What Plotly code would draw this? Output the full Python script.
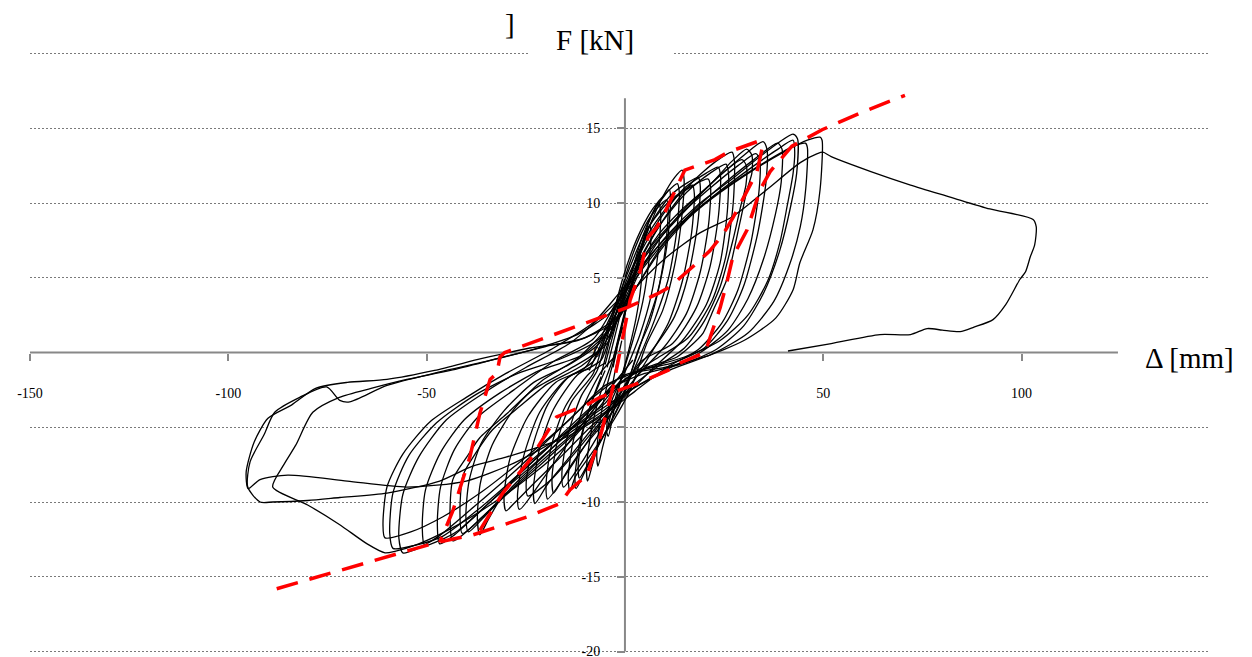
import plotly.graph_objects as go

# ---------------- tick labels ----------------
x_tick_vals = [-150, -100, -50, 50, 100]
x_tick_text = ["-150", "-100", "-50", "50", "100"]
y_tick_vals = [-20, -15, -10, -5, 0, 5, 10, 15, 20]
y_tick_text = ["-20", "-15", "-10", "-5", "0", "5", "10", "15", ""]

# ---------------- measured hysteresis loops (Δ [mm], F [kN]) ----------------
loop_01 = [(-3.0, -1.0), (-1.0, 1.5), (1.0, 3.6), (2.8, 5.4), (4.0, 6.5), (4.4, 6.2), (4.0, 4.4), (2.8, 2.3),
           (1.0, 0.2), (-1.0, -1.8), (-2.8, -3.9), (-4.2, -5.6), (-4.6, -5.3), (-4.0, -3.6), (-2.6, -1.4), (-0.8, 0.8)]
loop_02 = [(-2.5, 0.0), (0.0, 2.6), (2.5, 5.2), (4.6, 7.3), (6.2, 8.5), (6.6, 8.1), (6.0, 6.0), (4.5, 3.4),
           (2.0, 0.8), (-0.8, -1.6), (-3.4, -4.0), (-5.6, -6.3), (-6.8, -7.6), (-7.1, -7.0), (-6.4, -4.8),
           (-4.6, -2.3), (-2.0, 0.2)]
loop_03 = [(-1.5, 1.0), (1.0, 3.8), (3.5, 6.5), (6.0, 8.7), (8.5, 10.0), (9.0, 9.4), (8.4, 6.8), (6.6, 3.8),
           (3.8, 1.2), (0.5, -1.0), (-3.0, -3.0), (-6.0, -5.5), (-8.2, -7.5), (-9.4, -8.6), (-9.7, -7.9),
           (-8.7, -5.6), (-6.5, -3.0), (-3.5, -0.8), (-0.5, 1.7)]
loop_04 = [(-4.5, -1.0), (-1.5, 2.2), (1.5, 5.2), (4.5, 7.8), (7.5, 9.6), (10.0, 10.5), (11.2, 10.9),
           (11.5, 10.3), (10.8, 7.6), (8.8, 4.6), (6.2, 2.0), (3.5, 0.3), (0.0, -2.6), (-3.5, -4.6),
           (-7.0, -6.4), (-9.8, -7.8), (-12.3, -9.1), (-12.6, -8.3), (-11.3, -5.9), (-8.2, -3.2), (-5.0, -1.2)]
loop_04b = [(-6.0, -1.5), (-3.0, 1.8), (0.0, 5.0), (3.5, 7.6), (6.5, 9.1), (9.0, 9.9), (10.5, 10.2),
            (10.9, 9.6), (10.2, 7.0), (8.2, 4.0), (5.0, 1.4), (2.0, -1.0), (-1.5, -3.6), (-5.5, -5.6),
            (-9.0, -7.3), (-11.5, -8.4), (-11.8, -7.6), (-10.6, -5.3), (-8.0, -3.0), (-6.0, -1.6)]
loop_05 = [(-3.0, -0.5), (0.0, 2.8), (3.0, 5.8), (6.0, 8.3), (9.5, 10.4), (12.5, 11.7), (14.4, 12.2),
           (14.9, 11.6), (14.3, 9.0), (12.5, 5.8), (9.5, 2.8), (5.5, 0.6), (1.5, -2.4), (-3.0, -4.6),
           (-8.0, -6.6), (-12.5, -8.3), (-13.9, -9.3), (-14.3, -8.4), (-13.1, -6.0), (-10.1, -3.4),
           (-6.0, -1.3), (-3.0, -0.4)]
loop_05b = [(-7.0, -1.2), (-3.5, 2.0), (-0.5, 5.0), (3.0, 7.6), (7.0, 9.6), (10.5, 10.7), (13.2, 11.3),
            (13.7, 10.7), (13.1, 8.2), (11.0, 5.0), (7.5, 2.2), (3.5, -0.4), (-1.0, -3.0), (-6.0, -5.2),
            (-11.0, -7.4), (-15.5, -9.0), (-15.9, -8.1), (-14.5, -5.6), (-11.0, -2.9), (-7.0, -1.2)]
loop_06 = [(-5.0, -0.8), (-1.5, 2.6), (2.5, 6.0), (6.5, 8.6), (11.5, 10.5), (16.0, 11.4), (18.5, 11.7),
           (19.0, 11.1), (18.3, 8.5), (16.0, 5.2), (12.5, 2.4), (7.0, 0.2), (2.0, -1.4), (-3.0, -3.6),
           (-8.5, -5.6), (-14.0, -7.8), (-19.5, -9.8), (-19.9, -8.9), (-18.6, -6.3), (-15.0, -3.6),
           (-9.0, -1.4), (-5.0, -0.7)]
loop_06b = [(-8.0, -1.4), (-4.0, 2.0), (0.5, 5.2), (5.0, 8.0), (10.0, 9.8), (14.5, 10.8), (17.0, 11.2),
            (17.5, 10.6), (16.8, 8.0), (14.5, 4.8), (11.0, 2.0), (6.0, -0.3), (0.0, -2.8), (-5.0, -4.6),
            (-10.0, -6.2), (-14.5, -7.9), (-18.0, -9.4), (-18.4, -8.4), (-17.0, -5.9), (-13.5, -3.3),
            (-8.0, -1.4)]
loop_07 = [(-6.0, -0.5), (-2.0, 2.8), (3.0, 6.2), (9.0, 9.0), (15.0, 11.0), (20.5, 12.0), (23.5, 12.4),
           (24.1, 11.8), (23.6, 9.2), (21.5, 5.8), (18.0, 3.0), (12.0, 0.6), (4.0, -0.6), (-2.0, -3.0),
           (-8.0, -5.0), (-14.0, -7.0), (-19.5, -8.8), (-22.7, -10.1), (-23.1, -9.2), (-21.6, -6.5),
           (-18.0, -3.8), (-12.0, -1.5), (-6.0, -0.5)]
loop_07b = [(-9.0, -1.2), (-4.0, 1.8), (1.0, 5.2), (6.5, 8.2), (12.5, 10.3), (18.0, 11.3), (21.0, 11.6),
            (21.6, 11.0), (21.1, 8.6), (19.0, 5.4), (15.5, 2.6), (10.0, 0.4), (3.0, -1.6), (-3.0, -3.6),
            (-8.5, -5.4), (-13.5, -7.0), (-19.0, -8.6), (-24.5, -9.6), (-24.9, -8.7), (-23.2, -6.2),
            (-19.5, -3.5), (-14.0, -1.6), (-9.0, -1.1)]
loop_08 = [(-8.0, -0.6), (-2.5, 2.5), (3.5, 6.0), (10.0, 9.0), (17.0, 11.4), (23.0, 12.8), (27.0, 13.4),
           (27.6, 12.8), (27.3, 10.0), (25.5, 6.5), (22.0, 3.5), (16.0, 1.0), (8.0, -0.4), (1.0, -1.6),
           (-6.0, -3.2), (-13.0, -5.6), (-20.0, -8.2), (-26.6, -10.5), (-27.1, -9.6), (-25.6, -7.0),
           (-21.5, -4.0), (-15.0, -1.8), (-8.0, -0.6)]
loop_08b = [(-10.0, -1.0), (-4.0, 2.2), (2.0, 5.4), (8.5, 8.4), (15.5, 10.7), (21.5, 12.0), (25.5, 12.6),
            (26.1, 12.0), (25.8, 9.4), (24.0, 6.0), (20.5, 3.2), (14.5, 0.8), (6.5, -1.2), (-1.0, -3.2),
            (-8.0, -4.8), (-15.5, -6.8), (-23.5, -8.9), (-28.0, -10.1), (-30.0, -10.6), (-30.5, -9.7),
            (-29.0, -7.1), (-24.5, -4.3), (-17.5, -2.0), (-10.0, -1.0)]
loop_09 = [(-12.0, -0.4), (-5.0, 1.5), (0.0, 3.6), (4.0, 6.0), (8.5, 7.9), (14.5, 9.6), (21.4, 11.2),
           (27.0, 12.8), (30.7, 13.6), (32.0, 13.2), (32.0, 12.0), (30.8, 10.9), (29.0, 8.7), (25.7, 4.9),
           (22.2, 2.8), (19.7, 1.3), (16.4, 0.4), (13.1, -0.3), (5.5, -1.0), (-1.0, -2.0), (-5.0, -3.4),
           (-13.1, -5.0), (-24.7, -7.5), (-31.0, -9.6), (-34.5, -11.2), (-36.6, -12.2), (-37.2, -11.2),
           (-36.5, -8.8), (-33.5, -6.2), (-28.0, -3.8), (-21.0, -1.9), (-12.0, -0.4)]
loop_09b = [(-14.0, -0.8), (-6.5, 0.6), (-1.5, 3.0), (3.0, 5.6), (8.0, 7.4), (13.5, 9.0), (19.5, 10.7),
            (25.5, 12.2), (29.5, 12.9), (30.6, 12.5), (30.5, 11.2), (29.2, 9.8), (27.3, 7.6), (24.0, 4.4),
            (20.0, 2.1), (15.0, 0.3), (9.0, -0.8), (2.0, -2.2), (-4.0, -3.8), (-12.0, -5.2), (-22.0, -7.5),
            (-30.0, -9.5), (-35.5, -11.0), (-39.5, -12.0), (-40.1, -11.0), (-39.3, -8.6), (-36.3, -6.1),
            (-30.5, -3.9), (-23.0, -2.0), (-14.0, -0.8)]
loop_10 = [(-6.3, 0.2), (-1.0, 2.6), (3.0, 5.0), (8.0, 7.3), (15.0, 9.6), (23.0, 11.6), (30.0, 13.2),
           (34.8, 14.1), (35.8, 13.6), (35.6, 11.5), (33.5, 8.0), (30.0, 4.5), (26.0, 2.2), (20.0, 0.3),
           (12.0, -0.7), (4.0, -1.2), (-3.0, -2.4), (-10.0, -4.2), (-18.0, -6.3), (-27.0, -8.6),
           (-34.0, -10.5), (-38.3, -11.6), (-43.4, -12.6), (-44.1, -11.0), (-43.4, -8.5), (-39.9, -7.0),
           (-36.6, -5.7), (-29.8, -4.1), (-23.2, -2.5), (-14.6, -1.2), (-6.3, 0.2)]
loop_10b = [(-11.0, -0.9), (-4.0, 0.8), (0.5, 4.4), (6.0, 6.9), (13.5, 9.1), (21.5, 11.0), (28.5, 12.5),
            (33.0, 13.3), (34.0, 12.8), (33.8, 10.8), (31.8, 7.4), (28.5, 4.2), (24.5, 2.0), (18.5, 0.2),
            (10.5, -1.0), (2.5, -2.6), (-4.5, -4.0), (-12.0, -5.3), (-20.0, -7.2), (-29.0, -9.3),
            (-36.0, -11.0), (-41.0, -12.1), (-41.6, -10.7), (-40.8, -8.2), (-37.3, -6.6), (-33.5, -5.2),
            (-26.5, -3.6), (-19.5, -2.1), (-11.0, -0.9)]
loop_11 = [(-8.0, 0.9), (-2.0, 3.4), (4.0, 5.6), (10.5, 7.8), (18.5, 9.9), (27.0, 11.6), (35.0, 13.3),
           (42.4, 14.6), (43.5, 14.3), (43.3, 12.0), (41.8, 9.8), (39.0, 6.8), (35.0, 4.0), (30.0, 1.8),
           (23.0, 0.2), (14.0, -0.8), (5.0, -1.4), (-2.0, -2.2), (-10.0, -4.0), (-20.0, -6.5), (-30.0, -9.0),
           (-38.0, -11.0), (-43.0, -12.2), (-46.7, -12.8), (-47.3, -11.5), (-46.5, -9.0), (-43.0, -6.5),
           (-37.0, -4.3), (-28.0, -2.5), (-18.0, -0.6), (-8.0, 0.9)]
loop_11b = [(-11.0, -0.2), (-3.5, 1.6), (2.5, 4.2), (9.0, 7.0), (17.0, 9.4), (25.0, 11.3), (32.5, 12.9),
            (38.5, 14.0), (39.6, 13.6), (39.4, 11.4), (37.9, 9.2), (35.0, 6.3), (31.0, 3.6), (26.0, 1.5),
            (19.0, 0.0), (10.0, -1.2), (1.0, -2.6), (-6.0, -4.0), (-14.0, -5.4), (-24.0, -7.7),
            (-34.0, -10.0), (-42.0, -11.9), (-47.0, -12.6), (-50.5, -12.9), (-51.1, -11.7), (-50.3, -9.2),
            (-46.5, -6.7), (-40.5, -4.5), (-31.5, -2.7), (-21.5, -1.2), (-11.0, -0.2)]
loop_12 = [(-14.0, 0.6), (-6.0, 2.4), (0.0, 4.0), (5.0, 5.8), (12.0, 8.0), (20.0, 9.9), (30.0, 11.8),
           (40.0, 13.4), (46.0, 14.2), (49.2, 14.4), (49.7, 14.2), (49.2, 10.9), (47.4, 8.2), (44.1, 6.0),
           (42.4, 4.2), (38.0, 2.3), (30.0, 0.8), (20.0, -0.3), (10.0, -1.0), (0.0, -1.5), (-8.0, -3.0),
           (-18.0, -5.5), (-28.0, -8.0), (-38.0, -10.3), (-47.0, -12.3), (-53.0, -13.2), (-56.0, -13.4),
           (-57.0, -12.4), (-56.0, -9.5), (-52.0, -7.0), (-45.0, -4.5), (-35.0, -2.6), (-25.0, -1.0),
           (-14.0, 0.6)]
loop_12b = [(-16.0, -0.4), (-7.0, 0.8), (-1.5, 2.3), (3.0, 4.4), (10.0, 7.2), (18.0, 9.5), (28.0, 11.5),
            (37.0, 13.0), (42.5, 13.8), (45.5, 14.0), (46.0, 13.7), (45.6, 11.0), (44.2, 8.4), (41.4, 5.8),
            (37.5, 3.4), (31.0, 1.3), (22.0, -0.1), (12.0, -1.1), (2.0, -2.4), (-6.0, -3.8), (-17.0, -5.8),
            (-27.0, -8.2), (-37.0, -10.5), (-46.0, -12.3), (-53.0, -12.9), (-58.5, -13.1), (-59.3, -12.1),
            (-58.5, -9.4), (-54.5, -6.9), (-47.5, -4.7), (-37.5, -2.8), (-27.0, -1.4), (-16.0, -0.4)]
loop_13 = [(-18.0, 0.3), (-8.0, 2.0), (-2.0, 3.8), (6.0, 6.4), (13.0, 8.4), (22.0, 10.4), (31.0, 12.2),
           (38.0, 13.5), (42.4, 14.2), (42.8, 13.4), (42.4, 12.0), (40.9, 9.8), (39.1, 7.4), (36.0, 4.8),
           (31.0, 2.5), (24.0, 0.8), (15.0, -0.3), (5.0, -1.1), (-5.0, -2.2), (-14.0, -4.5), (-25.0, -7.0),
           (-36.0, -9.3), (-46.0, -11.0), (-54.0, -12.0), (-60.5, -12.4), (-61.0, -11.5), (-60.0, -9.0),
           (-56.0, -6.8), (-49.0, -4.6), (-40.0, -3.0), (-30.0, -1.4), (-18.0, 0.3)]
loop_14 = [(2.0, -0.5), (-5.0, -2.8), (-13.0, -5.4), (-21.5, -6.3), (-30.0, -7.0), (-38.4, -7.6),
           (-46.7, -8.6), (-60.0, -9.4), (-71.9, -9.7), (-80.0, -9.9), (-88.8, -10.0), (-92.0, -10.0),
           (-95.1, -9.0), (-94.5, -7.3), (-91.0, -5.5), (-88.3, -4.0), (-82.0, -3.0), (-75.2, -2.3),
           (-71.9, -3.2), (-69.4, -3.3), (-60.0, -2.2), (-46.7, -1.3), (-35.0, -0.6), (-22.0, 0.3),
           (-12.0, 1.2), (-4.0, 2.6), (0.0, 4.0)]
loop_15 = [(0.0, -1.5), (-6.0, -3.5), (-14.0, -6.0), (-24.0, -8.3), (-34.0, -10.2), (-44.0, -11.8),
           (-52.0, -12.8), (-58.0, -13.3), (-60.5, -13.4), (-65.0, -12.8), (-72.0, -11.5), (-80.0, -10.2),
           (-88.8, -9.0), (-86.0, -7.5), (-83.0, -6.2), (-78.7, -4.0), (-72.0, -3.0), (-64.0, -2.4),
           (-55.0, -1.8), (-44.0, -1.2), (-32.0, -0.4), (-20.0, 0.4), (-10.0, 1.0), (-2.0, 2.4), (2.0, 4.6)]
loop_16 = [(0.0, -1.2), (-8.0, -3.6), (-16.0, -5.6), (-28.0, -7.4), (-40.0, -8.6), (-55.0, -9.0),
           (-70.0, -8.6), (-85.0, -8.2), (-92.0, -8.5), (-95.0, -9.1), (-95.5, -8.0), (-93.5, -6.0),
           (-90.0, -4.4), (-84.0, -3.5), (-78.0, -2.4), (-70.0, -2.0), (-60.0, -1.8), (-48.0, -1.2),
           (-36.0, -0.4), (-24.0, 0.3), (-12.0, 0.8), (-3.0, 2.0), (1.0, 3.9)]
loop_17 = [(-4.0, 1.0), (0.0, 3.4), (5.0, 5.0), (10.6, 6.4), (18.9, 8.0), (27.2, 9.1), (35.8, 10.9),
           (44.2, 12.7), (48.5, 13.3), (49.9, 13.4), (52.0, 13.1), (62.0, 12.1), (72.0, 11.2), (82.0, 10.4),
           (92.0, 9.6), (102.9, 8.9), (103.7, 8.4), (103.3, 7.2), (102.2, 6.4), (101.0, 5.4), (99.6, 4.9),
           (96.0, 3.2), (92.8, 2.2), (88.0, 1.7), (84.5, 1.4), (80.0, 1.5), (76.2, 1.6), (72.0, 1.2),
           (64.3, 1.2), (52.0, 0.6), (41.1, 0.1)]

measured_loops = [loop_01, loop_02, loop_03, loop_04, loop_04b, loop_05, loop_05b, loop_06, loop_06b,
                  loop_07, loop_07b, loop_08, loop_08b, loop_09, loop_09b, loop_10, loop_10b, loop_11,
                  loop_11b, loop_12, loop_12b, loop_13, loop_14, loop_15, loop_16, loop_17]

# ---------------- model curves (red dashed) ----------------
model_1_x = [-87.8, -47.4, -38.3, -24.7, -16.4, -13.9, -9.6, -6.3, -3.0, 1.3, 3.8, 5.8, 8.1, 10.1, 15.1,
             22.7, 26.0, 33.3, 34.8, 33.3, 30.8, 27.2, 24.7, 21.4, 18.2, 11.4, 8.0, 0.5, -9.6, -20.2, -30.3,
             -31.5, -32.3, -34.0, -36.6, -39.1, -43.4, -46.7]
model_1_y = [-15.8, -12.7, -12.2, -11.0, -10.1, -9.2, -8.2, -5.7, -2.3, 3.5, 5.4, 7.7, 8.4, 9.4, 12.2,
             12.9, 13.4, 14.1, 13.9, 12.1, 10.8, 9.0, 7.9, 6.8, 6.0, 4.4, 3.9, 3.0, 2.0, 1.0, 0.0,
             -0.3, -1.4, -1.8, -4.1, -7.0, -10.6, -12.7]
model_2_x = [-36.6, -30.8, -24.0, -19.7, -17.2, -9.6, -6.3, 0.8, 3.8, 10.8, 13.9, 20.2, 22.7, 24.0, 25.7,
             27.2, 30.8, 34.1, 36.6, 42.1, 49.7, 60.0, 70.6]
model_2_y = [-11.9, -9.4, -7.2, -5.4, -4.3, -3.5, -3.0, -2.3, -2.0, -1.2, -0.7, 0.0, 2.0, 3.0, 4.7,
             6.4, 8.2, 10.9, 12.1, 13.8, 14.9, 16.1, 17.2]

AXIS_GRAY = "#888888"
SERIF = "Liberation Serif, Times New Roman, serif"

# page geometry (pixels) used to place paper-referenced items
ML, MR, MT, MB, W, H = 30, 44, 52, 4, 1252, 657
PW, PH = W - ML - MR, H - MT - MB


def px_x(px):
    return (px - ML) / PW


def px_y(py):
    return (H - MB - py) / PH


fig = go.Figure()
for lp in measured_loops:
    fig.add_trace(go.Scatter(
        x=[p[0] for p in lp], y=[p[1] for p in lp], mode="lines",
        line=dict(color="black", width=1.3, shape="spline", smoothing=0.7),
        hoverinfo="skip", showlegend=False))

for mx, my in [(model_1_x, model_1_y), (model_2_x, model_2_y)]:
    fig.add_trace(go.Scatter(
        x=mx, y=my, mode="lines",
        line=dict(color="#ff0000", width=3.5, dash="22px,12px"),
        hoverinfo="skip", showlegend=False))

# axis lines crossing at the origin
fig.add_shape(type="line", x0=-150, x1=124.3, y0=0, y1=0, xref="x", yref="y",
              line=dict(color=AXIS_GRAY, width=2), layer="between")
fig.add_shape(type="line", x0=0, x1=0, y0=-20, y1=17.0, xref="x", yref="y",
              line=dict(color=AXIS_GRAY, width=2), layer="between")
# white box behind the vertical axis title
fig.add_shape(type="rect", xref="paper", yref="paper",
              x0=px_x(530), x1=px_x(672), y0=px_y(64), y1=px_y(44),
              fillcolor="white", line=dict(width=0), layer="above")

fig.add_annotation(text="F [kN]", xref="paper", yref="paper", x=px_x(594.5), y=px_y(40),
                   showarrow=False, font=dict(family=SERIF, size=29, color="black"),
                   xanchor="center", yanchor="middle")
fig.add_annotation(text="]", xref="paper", yref="paper", x=px_x(510), y=px_y(24),
                   showarrow=False, font=dict(family=SERIF, size=29, color="black"),
                   xanchor="center", yanchor="middle")
fig.add_annotation(text="Δ [mm]", xref="paper", yref="paper", x=px_x(1189), y=px_y(358),
                   showarrow=False, font=dict(family=SERIF, size=29, color="black"),
                   xanchor="center", yanchor="middle")

fig.update_layout(
    width=W, height=H,
    margin=dict(l=ML, r=MR, t=MT, b=MB, autoexpand=False),
    paper_bgcolor="white", plot_bgcolor="white",
    showlegend=False,
    xaxis=dict(range=[-150, 147], anchor="free", position=0.5, automargin=False,
               showgrid=False, zeroline=False, showline=False,
               tickmode="array", tickvals=x_tick_vals, ticktext=x_tick_text,
               ticks="outside", ticklen=7, tickwidth=2, tickcolor=AXIS_GRAY,
               tickfont=dict(family=SERIF, size=14, color="black"), ticklabelstandoff=21),
    yaxis=dict(range=[-20.1, 20.1], anchor="free", position=px_x(625), automargin=False,
               showgrid=True, gridcolor="#7a7a7a", gridwidth=1, griddash="2px,2px",
               zeroline=True, zerolinecolor="rgba(0,0,0,0)", zerolinewidth=1, showline=False,
               tickmode="array", tickvals=y_tick_vals, ticktext=y_tick_text,
               ticks="outside", ticklen=8, tickwidth=2, tickcolor=AXIS_GRAY,
               ticklabeloverflow="allow",
               tickfont=dict(family=SERIF, size=14, color="black"), ticklabelstandoff=14),
)

fig.write_html("out.html")
